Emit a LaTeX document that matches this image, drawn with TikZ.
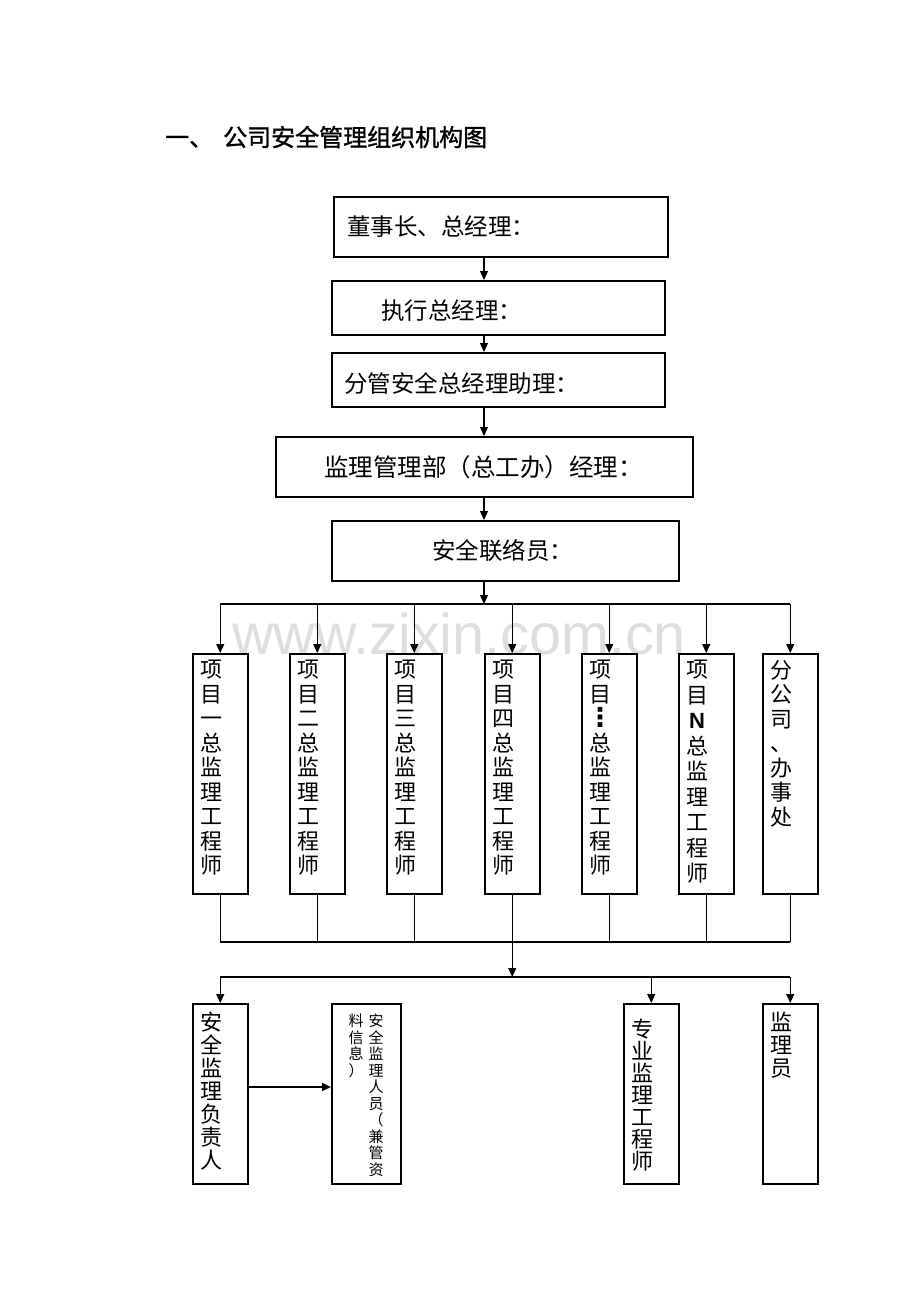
\documentclass[tikz,border=0pt]{standalone}
\usepackage{fontspec}
\newfontfamily\cjk{Noto Sans CJK SC}
\newfontfamily\cjkb[FakeBold=1.2]{Noto Sans CJK SC}
\newfontfamily\lat{Liberation Sans}
\newfontfamily\dvs{DejaVu Sans}
\usetikzlibrary{arrows.meta}
\begin{document}
\begin{tikzpicture}[x=1pt,y=-1pt,
  box/.style={draw=black,line width=1.5pt,inner sep=0pt,anchor=north west},
  ln/.style={draw=black,line width=1.2pt},
  arr/.style={ln,-{Triangle[length=9pt,width=8pt]}},
  htxt/.style={inner sep=0pt,anchor=west,font=\cjk\fontsize{23.5}{25}\selectfont},
  vtxt/.style={inner sep=0pt,anchor=north,align=center,font=\cjk\fontsize{22}{24.5}\selectfont},
  vtxtb/.style={inner sep=0pt,anchor=north,align=center,font=\cjk\fontsize{22}{23}\selectfont},
  vsmall/.style={inner sep=0pt,anchor=north,align=center,font=\cjk\fontsize{15}{16.5}\selectfont}]
\useasboundingbox[fill=white] (0,0) rectangle (920,1302);

% watermark
\node[inner sep=0pt,text=black!13,font=\lat\fontsize{57.5}{57.5}\selectfont] (wm) at (459,634) {www.zixin.com.cn};

% title
\node[inner sep=0pt,anchor=west,font=\cjkb\fontsize{24}{26}\selectfont] (title) at (165,137) {一、\hspace{10pt}公司安全管理组织机构图};

% top chain
\node[box,minimum width=334pt,minimum height=60pt] (b1) at (333,196) {};
\node[box,minimum width=333pt,minimum height=54pt] (b2) at (331,280) {};
\node[box,minimum width=333pt,minimum height=54pt] (b3) at (331,352) {};
\node[box,minimum width=417pt,minimum height=60pt] (b4) at (275,436) {};
\node[box,minimum width=347pt,minimum height=60pt] (b5) at (331,520) {};
\node[htxt] (t1) at (347,227) {董事长、总经理：};
\node[htxt] (t2) at (381,311) {执行总经理：};
\node[htxt] (t3) at (344,383) {分管安全总经理助理：};
\node[htxt,font=\cjk\fontsize{24.5}{26}\selectfont] (t4) at (324,467) {监理管理部（总工办）经理：};
\node[htxt] (t5) at (432,551) {安全联络员：};

\coordinate (ax) at (484,0);
\coordinate (bus1) at (0,604);
\coordinate (bus2) at (0,942);
\coordinate (bus3) at (0,977);
\coordinate (ay) at (0,1087);

\draw[arr] (b1.south -| ax) -- (b2.north -| ax);
\draw[arr] (b2.south -| ax) -- (b3.north -| ax);
\draw[arr] (b3.south -| ax) -- (b4.north -| ax);
\draw[arr] (b4.south -| ax) -- (b5.north -| ax);

% project columns
\node[box,minimum width=55pt,minimum height=240pt] (p1) at (192,653) {};
\node[box,minimum width=55pt,minimum height=240pt] (p2) at (289,653) {};
\node[box,minimum width=55pt,minimum height=240pt] (p3) at (386,653) {};
\node[box,minimum width=55pt,minimum height=240pt] (p4) at (484,653) {};
\node[box,minimum width=55pt,minimum height=240pt] (p5) at (581,653) {};
\node[box,minimum width=55pt,minimum height=240pt] (p6) at (678,653) {};
\node[box,minimum width=55pt,minimum height=240pt] (p7) at (762,653) {};

\node[vtxt] (pt1) at (211,660) {项\\目\\一\\总\\监\\理\\工\\程\\师};
\node[vtxt] (pt2) at (308,660) {项\\目\\二\\总\\监\\理\\工\\程\\师};
\node[vtxt] (pt3) at (405,660) {项\\目\\三\\总\\监\\理\\工\\程\\师};
\node[vtxt] (pt4) at (503,660) {项\\目\\四\\总\\监\\理\\工\\程\\师};
\node[vtxt] (pt5) at (600,660) {项\\目\\{\dvs\bfseries\fontsize{26}{24.5}\selectfont ⋮}\\总\\监\\理\\工\\程\\师};
\node[vtxt,font=\cjk\fontsize{22}{25.5}\selectfont] (pt6) at (697,660) {项\\目\\{\lat\bfseries N}\\总\\监\\理\\工\\程\\师};
\node[vtxt] (pt7) at (781,660) {分\\公\\司\\、\\办\\事\\处};

% top bus
\draw[arr] (b5.south -| ax) -- (ax |- bus1);
\draw[ln] (p1.north |- bus1) -- (p7.north |- bus1);
\foreach \i in {1,...,7} {\draw[arr] (p\i.north |- bus1) -- (p\i.north);}

% bottom bus
\foreach \i in {1,...,7} {\draw[ln] (p\i.south) -- (p\i.south |- bus2);}
\draw[ln] (p1.south |- bus2) -- (p7.south |- bus2);
\draw[arr] (p4.south |- bus2) -- (p4.south |- bus3);

% bottom boxes
\node[box,minimum width=55pt,minimum height=180pt] (q1) at (192,1003) {};
\node[box,minimum width=69pt,minimum height=180pt] (q2) at (331,1003) {};
\node[box,minimum width=55pt,minimum height=180pt] (q3) at (623,1003) {};
\node[box,minimum width=55pt,minimum height=180pt] (q4) at (762,1003) {};

\node[vtxtb] (qt1) at (211,1012) {安\\全\\监\\理\\负\\责\\人};
\node[vsmall] (qt2a) at (376,1014) {安\\全\\监\\理\\人\\员\\（\\兼\\管\\资};
\node[vsmall] (qt2b) at (356,1014) {料\\信\\息\\）};
\node[vtxtb,font=\cjk\fontsize{22}{22}\selectfont] (qt3) at (642,1019) {专\\业\\监\\理\\工\\程\\师};
\node[vtxtb] (qt4) at (781,1012) {监\\理\\员};

\draw[ln] (q1.north |- bus3) -- (q4.north |- bus3);
\draw[arr] (q1.north |- bus3) -- (q1.north);
\draw[arr] (q3.north |- bus3) -- (q3.north);
\draw[arr] (q4.north |- bus3) -- (q4.north);
\draw[arr] (q1.east |- ay) -- (q2.west |- ay);
\end{tikzpicture}
\end{document}
